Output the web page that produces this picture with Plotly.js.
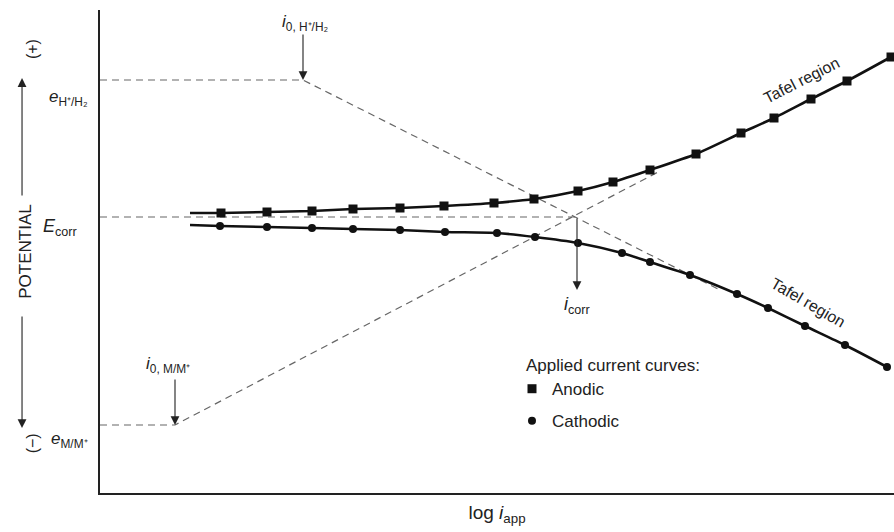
<!DOCTYPE html>
<html>
<head>
<meta charset="utf-8">
<script src="https://cdn.plot.ly/plotly-3.0.1.min.js"></script>
<style>html,body{margin:0;padding:0;background:#fff}#chart{width:894px;height:532px}</style>
</head>
<body>
<div id="chart"></div>
<script>
// Arbitrary units: log i_app (x), potential (y)
// First point of each curve is where the drawn line starts (no marker).
const anodicLogI = [90,121,167,212,253,300,344,394,434,478,513,550,596,641,674,711,747,791];
const anodicE    = [280,280,281,282,284,285,287,290,294,302,311,323,339,360,375,394,412,436];
const cathodicLogI = [90,120,167,212,253,300,345,397,435,478,522,550,590,637,668,705,745,787];
const cathodicE    = [268,267,266,265,264,263,261,260,256,250,240,231,218,199,185,167,148,126];

// Key potentials and currents
const eH = 413, eM = 68, Ecorr = 276;
const i0H = 203, i0M = 75, icorr = 477;
// End points where extrapolated Tafel lines meet the curves
const cathTafelEnd = [620, 203];
const anodTafelEnd = [560, 322];

const axisMax = [794, 483];

const black = '#111111';
const dashCol = '#666666';
const fontFam = 'Liberation Sans, Arial, sans-serif';
const ink = '#222222';

const dash = {color: dashCol, width: 1.2, dash: '7px,5px'};
const traces = [
  {x:[0,i0H,cathTafelEnd[0]], y:[eH,eH,cathTafelEnd[1]], mode:'lines', line:dash, showlegend:false, hoverinfo:'skip'},
  {x:[0,i0M,anodTafelEnd[0]], y:[eM,eM,anodTafelEnd[1]], mode:'lines', line:dash, showlegend:false, hoverinfo:'skip'},
  {x:[0,icorr], y:[Ecorr,Ecorr], mode:'lines', line:dash, showlegend:false, hoverinfo:'skip'},
  {x:anodicLogI, y:anodicE, mode:'lines', line:{color:black, width:2.6, shape:'spline', smoothing:0.6}, showlegend:false, hoverinfo:'skip'},
  {x:cathodicLogI, y:cathodicE, mode:'lines', line:{color:black, width:2.6, shape:'spline', smoothing:0.6}, showlegend:false, hoverinfo:'skip'},
  {x:anodicLogI.slice(1), y:anodicE.slice(1), mode:'markers', name:'Anodic', legendgroup:'a', marker:{symbol:'square', size:9, color:black}},
  {x:cathodicLogI.slice(1), y:cathodicE.slice(1), mode:'markers', name:'Cathodic', legendgroup:'c', marker:{symbol:'circle', size:8, color:black}}
];

const F = (s) => ({family:fontFam, size:s, color:ink});
const txt = (s, x, y, extra) => Object.assign({text:s, x:x, y:y, xref:'x', yref:'y', showarrow:false, font:F(16)}, extra||{});
const arrow = (x, y, ax, ay) => ({text:'', x:x, y:y, ax:ax, ay:ay, xref:'x', yref:'y', axref:'x', ayref:'y', showarrow:true, arrowhead:2, arrowsize:1.6, arrowwidth:1.1, arrowcolor:ink});

const annotations = [
  txt('<i>e</i><sub>H⁺/H₂</sub>', -0.012, 395, {xref:'paper', xanchor:'right', font:F(17)}),
  txt('<i>E</i><sub>corr</sub>', -0.027, 266, {xref:'paper', xanchor:'right', font:F(18)}),
  txt('<i>e</i><sub>M/M⁺</sub>', -0.012, 53, {xref:'paper', xanchor:'right', font:F(17)}),
  txt('<i>i</i><sub>0, H⁺/H₂</sub>', 205, 470, {font:F(17)}),
  txt('<i>i</i><sub>0, M/M⁺</sub>', 68, 128, {font:F(17)}),
  txt('<i>i</i><sub>corr</sub>', 477, 188, {font:F(18)}),
  txt('Tafel region', 701, 413, {textangle:-27, font:F(16)}),
  txt('Tafel region', 708, 191, {textangle:30, font:F(16)}),
  arrow(i0H, eH, i0H, 460),
  arrow(i0M, eM, i0M, 115),
  arrow(icorr, 203, icorr, Ecorr),
  // y-axis title decorations
  {text:'', xref:'paper', yref:'paper', x:-0.0982, y:0.859, ax:0, ay:119, axref:'pixel', ayref:'pixel', showarrow:true, arrowhead:2, arrowsize:1.6, arrowwidth:1.1, arrowcolor:ink},
  {text:'', xref:'paper', yref:'paper', x:-0.0982, y:0.1346, ax:0, ay:-113, axref:'pixel', ayref:'pixel', showarrow:true, arrowhead:2, arrowsize:1.6, arrowwidth:1.1, arrowcolor:ink},
  {text:'(+)', xref:'paper', yref:'paper', x:-0.0982, y:0.943, textangle:-90, showarrow:false, font:F(16)},
  {text:'(−)', xref:'paper', yref:'paper', x:-0.0982, y:0.077, textangle:-90, showarrow:false, font:F(16)}
];

const layout = {
  width:894, height:532,
  margin:{l:100, r:0, t:10, b:39},
  paper_bgcolor:'#fff', plot_bgcolor:'#fff',
  font:{family:fontFam, color:ink},
  xaxis:{range:[0, axisMax[0]], showline:true, linecolor:ink, linewidth:2, showgrid:false, zeroline:false, showticklabels:false, ticks:'',
         title:{text:'log <i>i</i><sub>app</sub>', font:F(19), standoff:12}},
  yaxis:{range:[0, axisMax[1]], showline:true, linecolor:ink, linewidth:2, showgrid:false, zeroline:false, showticklabels:false, ticks:'',
         title:{text:'POTENTIAL', font:F(17), standoff:62}},
  showlegend:true,
  legend:{x:0.534, y:0.298, xanchor:'left', yanchor:'top', bgcolor:'rgba(0,0,0,0)', indentation:-12, tracegroupgap:7,
          title:{text:'Applied current curves:', font:F(17)},
          font:F(17)},
  annotations:annotations
};

Plotly.newPlot('chart', traces, layout, {staticPlot:true, displayModeBar:false});
</script>
</body>
</html>
